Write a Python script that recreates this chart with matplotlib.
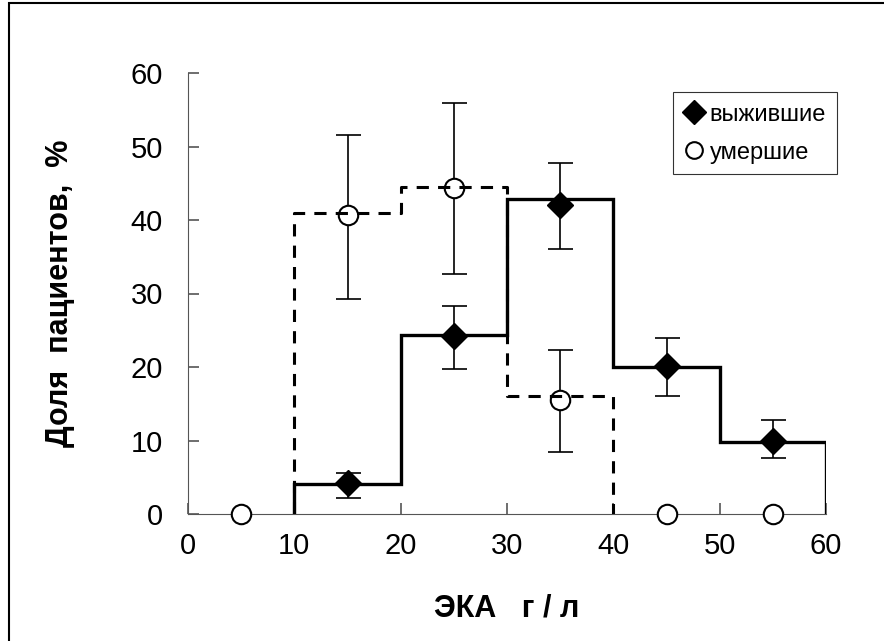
import numpy as np
import matplotlib
matplotlib.use('Agg')
import matplotlib.pyplot as plt
from matplotlib.patches import Rectangle

plt.rcParams['font.family'] = ['Liberation Sans', 'DejaVu Sans']

# survivors (выжившие)
surv_x = [15, 25, 35, 45, 55]
surv_y = [4.2, 24.2, 42.0, 20.1, 10.0]
surv_lo = [2.2, 19.7, 36.1, 16.1, 7.6]
surv_hi = [5.6, 28.3, 47.7, 23.9, 12.8]

# deceased (умершие)
dead_x = [5, 15, 25, 35, 45, 55]
dead_y = [0, 40.7, 44.3, 15.5, 0, 0]
dead_lo = [0, 29.3, 32.6, 8.4, 0, 0]
dead_hi = [0, 51.6, 55.9, 22.3, 0, 0]

# histogram step outlines
surv_edges = [10, 20, 30, 40, 50, 60]
surv_levels = [4.05, 24.4, 42.9, 20.0, 9.8]
dead_edges = [10, 20, 30, 40]
dead_levels = [40.9, 44.5, 16.0]

fig = plt.figure(figsize=(8.84, 6.41), dpi=100)
ax = fig.add_axes([188/884, 1-514/641, (826-188)/884, (514-73)/641])

# outer frame (left and top visible)
fig.patches.append(Rectangle((9/884, -0.1), 1.2, 1 - 3/641 + 0.1, transform=fig.transFigure,
                             fill=False, edgecolor='black', linewidth=1.5))

def step_xy(edges, levels):
    xs, ys = [edges[0]], [0]
    for i, lv in enumerate(levels):
        xs += [edges[i], edges[i+1]]
        ys += [lv, lv]
    xs.append(edges[-1])
    ys.append(0)
    return xs, ys

sx, sy = step_xy(surv_edges, surv_levels)
dx, dy = step_xy(dead_edges, dead_levels)
ax.plot(sx, sy, color='black', lw=2.4, zorder=3, solid_joinstyle='miter')
ax.plot(dx, dy, color='black', lw=2.2, ls=(0, (4, 3)), zorder=3)

s_err = [np.array(surv_y) - np.array(surv_lo), np.array(surv_hi) - np.array(surv_y)]
d_err = [np.array(dead_y) - np.array(dead_lo), np.array(dead_hi) - np.array(dead_y)]
ax.errorbar(surv_x, surv_y, yerr=s_err, fmt='none', ecolor='black', elinewidth=1.2,
            capsize=9, capthick=1.2, zorder=1)
ax.errorbar(dead_x[1:4], dead_y[1:4], yerr=[d_err[0][1:4], d_err[1][1:4]], fmt='none',
            ecolor='black', elinewidth=1.2, capsize=9, capthick=1.2, zorder=1)

ax.plot(surv_x, surv_y, ls='none', marker='D', ms=13, color='black', zorder=4,
        label='выжившие', clip_on=False)
ax.plot(dead_x, dead_y, ls='none', marker='o', ms=14, mfc='white', mec='black', mew=1.5,
        zorder=2.8, label='умершие', clip_on=False)

ax.set_xlim(0, 60)
ax.set_ylim(0, 60)
ax.set_xticks(range(0, 61, 10))
ax.set_yticks(range(0, 61, 10))
ax.spines['top'].set_visible(False)
ax.spines['right'].set_visible(False)
ax.spines['left'].set_color('#555555')
ax.spines['bottom'].set_color('#555555')
ax.tick_params(direction='in', length=8, width=1.2, labelsize=21, colors='#555555',
               labelcolor='black')
ax.tick_params(axis='x', pad=13)
ax.tick_params(axis='y', pad=18)

ax.set_xlabel('ЭКА   г / л', fontsize=22, fontweight='bold', labelpad=24)
ax.set_ylabel('Доля  пациентов,  %', fontsize=22, fontweight='bold', labelpad=40)

leg = ax.legend(loc='upper left', bbox_to_anchor=((673-188)/638, (514-92)/441),
                frameon=True, fancybox=False, edgecolor='black', fontsize=17,
                handletextpad=0.2, handlelength=0.9, borderpad=0.45, labelspacing=0.65,
                borderaxespad=0, handleheight=0.9)
leg.get_frame().set_linewidth(0.8)
for h in leg.legend_handles:
    h.set_markersize(12)

fig.savefig('out.png', dpi=100)
